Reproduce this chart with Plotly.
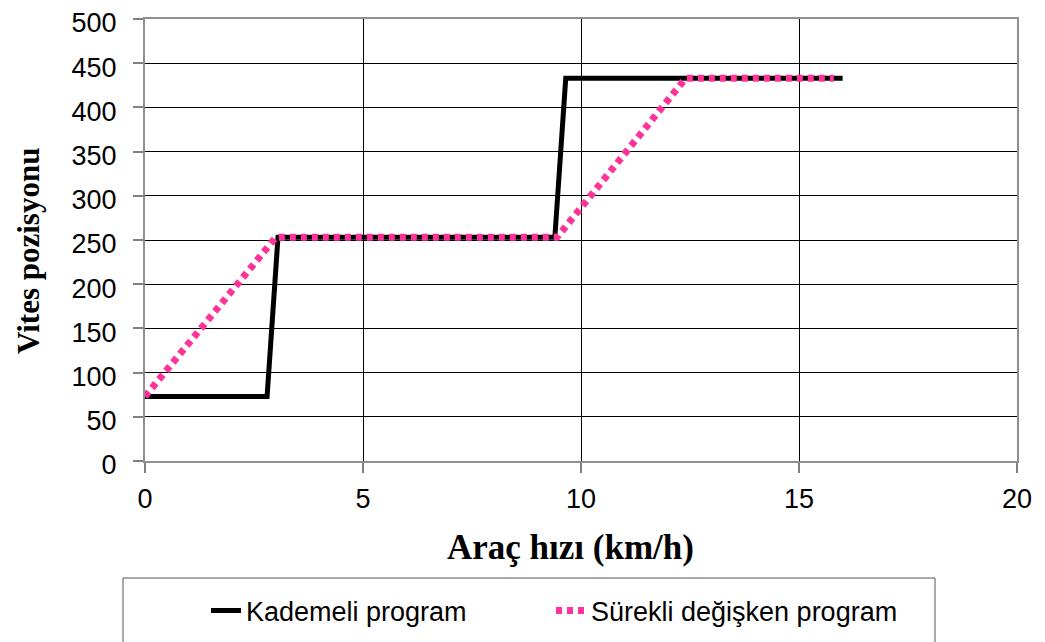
import plotly.graph_objects as go

# Data
kademeli_x = [0, 2.8, 3.05, 9.4, 9.65, 16.0]
kademeli_y = [73, 73, 253, 253, 433, 433]
surekli_x = [0, 3.0, 9.45, 12.4, 15.8]
surekli_y = [73, 253, 253, 433, 433]

series_names = ["Kademeli program", "Sürekli değişken program"]
x_title = "Araç hızı (km/h)"
y_title = "Vites pozisyonu"

OFF = 8  # page body margin
W, H = 1045 - OFF, 642 - OFF
L, R, T, B = 145, 1017, 19, 461  # plot area in screenshot pixels
pw, ph = R - L, B - T

def px_x(p):
    return (p - L) / pw

def px_y(p):
    return (B - p) / ph

fig = go.Figure()
fig.add_trace(go.Scatter(
    x=kademeli_x, y=kademeli_y, mode="lines", name=series_names[0],
    line=dict(color="black", width=5),
))
fig.add_trace(go.Scatter(
    x=surekli_x, y=surekli_y, mode="lines", name=series_names[1],
    line=dict(color="#FF3399", width=7, dash="6px,5px"),
))

axis_common = dict(
    showgrid=True, gridcolor="black", gridwidth=1,
    showline=True, linecolor="#909090", linewidth=2, mirror=True,
    ticks="outside", tickcolor="#808080", ticklen=10, tickwidth=1.5,
    tickfont=dict(family="Liberation Sans, Arial", size=27, color="black"),
    zeroline=False, ticklabeloverflow="allow",
)

title_font = dict(family="Liberation Serif, Times New Roman", size=35, color="black")

fig.update_layout(
    width=W, height=H,
    margin=dict(l=L - OFF, r=W - (R - OFF), t=T - OFF, b=H - (B - OFF), autoexpand=False),
    paper_bgcolor="white", plot_bgcolor="white",
    showlegend=True,
    legend=dict(
        orientation="h", x=px_x(206), xanchor="left", y=px_y(611), yanchor="middle",
        font=dict(family="Liberation Sans, Arial", size=27, color="black"),
        entrywidth=300, entrywidthmode="pixels",
        bgcolor="rgba(0,0,0,0)", borderwidth=0, itemwidth=30,
    ),
    xaxis=dict(
        range=[0, 20], tickvals=[0, 5, 10, 15, 20], ticklabelstandoff=3,
        **axis_common,
    ),
    yaxis=dict(
        range=[0, 500], tickvals=list(range(0, 501, 50)), ticklabelstandoff=11,
        ticklabelshift=4,
        **axis_common,
    ),
    annotations=[
        dict(text="<b>" + x_title + "</b>", xref="paper", yref="paper",
             x=px_x(570), y=px_y(547), xanchor="center", yanchor="middle",
             showarrow=False, font=title_font),
        dict(text="<b>" + y_title + "</b>", xref="paper", yref="paper",
             x=px_x(28), y=px_y(251), xanchor="center", yanchor="middle",
             textangle=-90, showarrow=False,
             font=dict(family="Liberation Serif, Times New Roman", size=31, color="black")),
    ],
    shapes=[dict(
        type="rect", xref="paper", yref="paper",
        x0=px_x(123), x1=px_x(935), y0=px_y(646), y1=px_y(578),
        line=dict(color="#555555", width=1), fillcolor="rgba(0,0,0,0)", layer="above",
    )],
)

fig.write_html("out.html")
